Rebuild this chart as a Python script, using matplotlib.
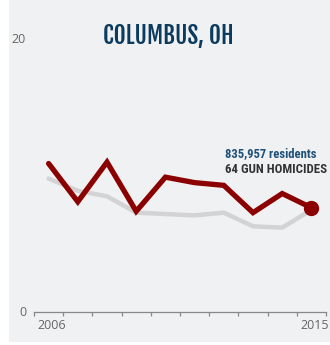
import numpy as np
import matplotlib.pyplot as plt
from matplotlib.patches import Rectangle

# Jahre und Raten (Schusswaffen-Tötungen pro 100.000 Einwohner)
jahre = [2006, 2007, 2008, 2009, 2010, 2011, 2012, 2013, 2014, 2015]
stadt_rate = [10.9, 8.1, 11.0, 7.4, 9.9, 9.5, 9.3, 7.3, 8.7, 7.66]
vergleich_rate = [9.8, 8.9, 8.5, 7.3, 7.2, 7.1, 7.3, 6.3, 6.2, 7.5]

titel = "COLUMBUS, OH"
einwohner_text = "835,957 residents"
toetungen_text = "64 GUN HOMICIDES"

titel_font = ['Fjalla One', 'Roboto Condensed', 'DejaVu Sans']
schmal = ['Roboto Condensed', 'DejaVu Sans']
normal = ['Open Sans', 'DejaVu Sans']

W, H = 330, 345
fig = plt.figure(figsize=(W / 100, H / 100), dpi=100)
fig.patch.set_facecolor('white')

# Grauer Hintergrund
fig.patches.append(Rectangle((9 / W, 3 / H), (W - 9) / W, (H - 3) / H,
                             transform=fig.transFigure, facecolor='#f0f1f3',
                             edgecolor='none', zorder=-5))

ax = fig.add_axes([34 / W, (H - 312.3) / H, (326 - 34) / W, (312.3 - 39.3) / H])
ax.set_facecolor('none')
ax.set_xlim(2005.5, 2015.5)
ax.set_ylim(0, 20)

ax.plot(jahre, vergleich_rate, color='#d3d3d5', lw=3.2, solid_capstyle='round',
        solid_joinstyle='round', zorder=2)
ax.plot(jahre, stadt_rate, color='#8b0000', lw=3.8, solid_capstyle='round',
        solid_joinstyle='miter', zorder=3)
ax.plot(jahre[-1], stadt_rate[-1], 'o', color='#8b0000', ms=10, zorder=4, clip_on=False)

for s in ['top', 'right', 'left']:
    ax.spines[s].set_visible(False)
ax.spines['bottom'].set_color('#888888')
ax.spines['bottom'].set_linewidth(0.9)

ax.set_xticks(np.arange(2005.5, 2016, 1))
ax.set_xticklabels([])
ax.tick_params(axis='x', length=3, width=0.9, color='#888888', direction='out')
ax.set_yticks([])

# Achsenbeschriftungen
x_links = 2005.5 - 8 / 292 * 10
ax.text(x_links, 0, "0", ha='right', va='center', fontsize=9,
        color='#666666', family=normal)
ax.text(x_links, 20, "20", ha='right', va='center', fontsize=9,
        color='#666666', family=normal)
ax.text(jahre[0] + 0.1, -0.95, "2006", ha='center', va='center', fontsize=9,
        color='#666666', family=normal)
ax.text(jahre[-1] + 0.12, -0.95, "2015", ha='center', va='center', fontsize=9,
        color='#666666', family=normal)

t1 = fig.text(168.5 / W, 1 - 36.5 / H, titel, ha='center', va='center', fontsize=19,
              fontweight='bold', color='#0d3b5e', family=titel_font)
t2 = fig.text(225 / W, 1 - 153.3 / H, einwohner_text, ha='left', va='center', fontsize=10,
              fontweight='bold', color='#1f5078', family=schmal)
t3 = fig.text(225 / W, 1 - 169.3 / H, toetungen_text, ha='left', va='center', fontsize=10,
              fontweight='bold', color='#333333', family=schmal)

# Schriftgröße an die gewünschte Breite anpassen
renderer = fig.canvas.get_renderer()
for t, breite in [(t1, 131), (t2, 92), (t3, 102)]:
    w = t.get_window_extent(renderer).width
    t.set_fontsize(t.get_fontsize() * breite / w)

fig.savefig("out.png", dpi=100)
